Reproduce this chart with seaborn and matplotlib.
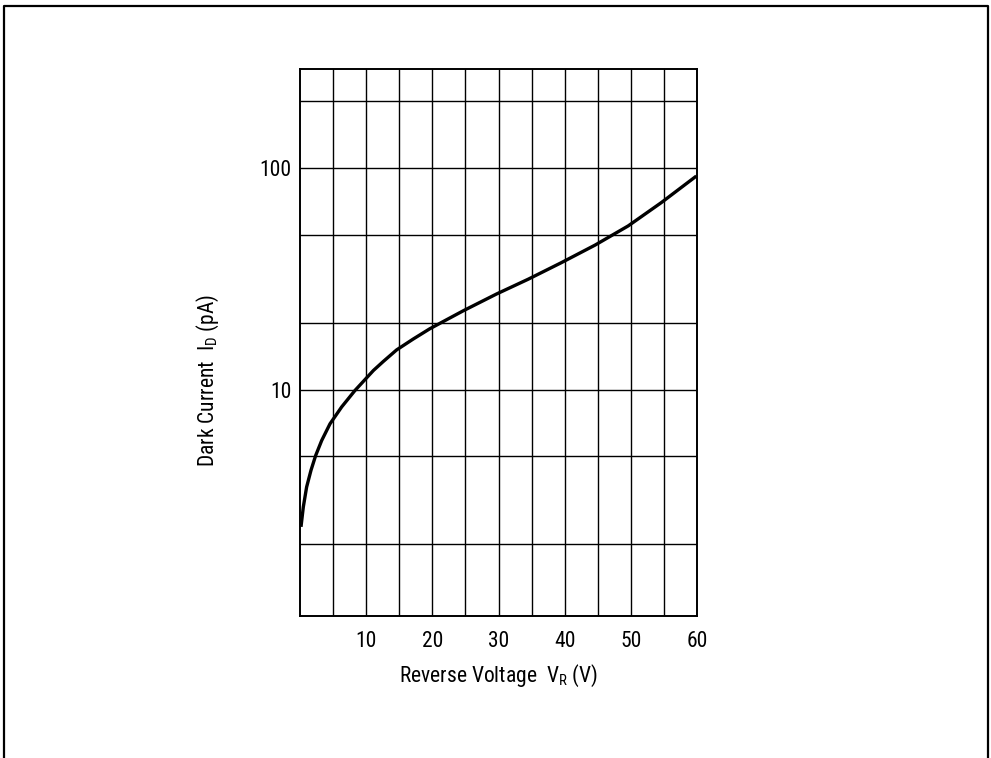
import matplotlib
matplotlib.use("Agg")
import matplotlib.pyplot as plt
import seaborn as sns
import numpy as np
import pandas as pd
from matplotlib import font_manager
from matplotlib.ticker import FixedLocator, NullFormatter, FixedFormatter
from matplotlib.lines import Line2D

# Data
voltage = [0.15, 0.5, 1.0, 1.66, 2.37, 3.28, 4.53, 6.3, 8.3, 11.1, 12.6, 14.6, 17.1,
           19.6, 22.2, 24.7, 29.7, 34.5, 39.5, 44.6, 49.6, 54.6, 59.9]
dark_current = [2.4, 2.95, 3.63, 4.32, 5.04, 5.89, 7.0, 8.35, 9.9, 12.2, 13.4, 15.1, 16.9,
                18.8, 20.7, 22.7, 27.0, 31.5, 37.4, 44.9, 54.8, 69.8, 92.0]

x_tick_values = [10, 20, 30, 40, 50, 60]
x_tick_labels = ["10", "20", "30", "40", "50", "60"]
x_minor_values = [5, 15, 25, 35, 45, 55]
y_tick_values = [10, 100]
y_tick_labels = ["10", "100"]
y_minor_values = [2, 5, 20, 50, 200]

sns.set_style("white")

# pick a condensed sans font if one is installed
family, stretch, fsize = 'Liberation Sans', 'normal', 13.5
names = {(f.name, f.stretch) for f in font_manager.fontManager.ttflist}
for cand in ['Liberation Sans Narrow', 'Roboto Condensed', 'Open Sans Condensed']:
    if any(n == cand for n, s in names):
        family, stretch, fsize = cand, 'normal', 15.5
        break
else:
    for n, s in names:
        if n in ('DejaVu Sans', 'Open Sans', 'Roboto', 'Noto Sans') and s in ('condensed', 'semi-condensed', 'extra-condensed'):
            family, stretch, fsize = n, s, 15
            break

plt.rcParams['font.family'] = [family, 'Liberation Sans', 'DejaVu Sans']
plt.rcParams['font.stretch'] = stretch
plt.rcParams['mathtext.fontset'] = 'custom'
plt.rcParams['mathtext.rm'] = family

fig = plt.figure(figsize=(9.91, 7.58), dpi=100)
ax = fig.add_axes([300/991, 1-616/758, 397/991, (616-69)/758])

df = pd.DataFrame({"V": voltage, "I": dark_current})
sns.lineplot(data=df, x="V", y="I", ax=ax, color="black", linewidth=2.4, sort=True,
             estimator=None, solid_joinstyle="round", solid_capstyle="butt")

ax.set_yscale("log")
ax.set_xlim(0, 60)
ax.set_ylim(0.95, 280)

ax.xaxis.set_major_locator(FixedLocator(x_tick_values))
ax.xaxis.set_major_formatter(FixedFormatter(x_tick_labels))
ax.xaxis.set_minor_locator(FixedLocator(x_minor_values))
ax.xaxis.set_minor_formatter(NullFormatter())
ax.yaxis.set_major_locator(FixedLocator(y_tick_values))
ax.yaxis.set_major_formatter(FixedFormatter(y_tick_labels))
ax.yaxis.set_minor_locator(FixedLocator(y_minor_values))
ax.yaxis.set_minor_formatter(NullFormatter())

ax.grid(True, which="both", color="black", linewidth=1.0)
ax.tick_params(axis="both", which="both", length=0, labelsize=fsize, colors="black")
ax.tick_params(axis="x", pad=11)
ax.tick_params(axis="y", pad=6)
for s in ax.spines.values():
    s.set_color("black")
    s.set_linewidth(1.4)
    s.set_visible(True)

ax.set_xlabel(r"Reverse Voltage  V$\mathregular{_R}$ (V)", fontsize=fsize, color="black")
ax.set_ylabel(r"Dark Current  I$\mathregular{_D}$ (pA)", fontsize=fsize, color="black")
ax.xaxis.set_label_coords(0.5, -0.085)
ax.yaxis.set_label_coords(-0.2, 0.43)

# outer border (open at the bottom)
fig.add_artist(Line2D([4/991, 4/991, 988/991, 988/991], [0, 1-6/758, 1-6/758, 0],
                      transform=fig.transFigure, color="black", linewidth=1.6))

fig.savefig("out.png", dpi=100, facecolor="white")
